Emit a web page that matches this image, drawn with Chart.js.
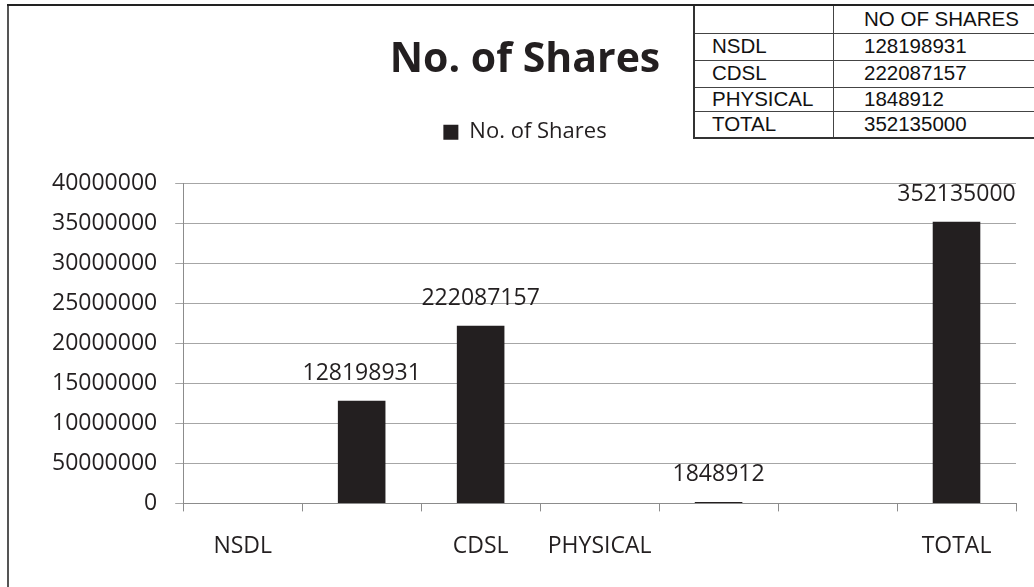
<!DOCTYPE html>
<html>
<head>
<meta charset="utf-8">
<script src="https://cdn.jsdelivr.net/npm/chart.js@4.4.1/dist/chart.umd.min.js"></script>
<style>
  body { margin: 0; background: #fff; }
  #wrap { position: absolute; left: 0; top: 0; width: 1034px; height: 587px; }
  #frameLeft { position: absolute; left: 7px; top: 4px; width: 2px; height: 583px; background: #555; }
  #frameTop { position: absolute; left: 7px; top: 4px; width: 688px; height: 2px; background: #222; }
  #shareTable {
    position: absolute; left: 693px; top: 4px; width: 345px;
    border-collapse: collapse; background: #fff;
    font-family: "Liberation Sans", Arial, sans-serif; font-size: 20.5px; color: #111;
    border-top: 2px solid #222; border-left: 2px solid #333; border-bottom: 2px solid #333;
  }
  #shareTable td { padding: 0; line-height: 1; border-top: 1px solid #444; white-space: nowrap; }
  #shareTable td.name { width: 121px; padding-left: 17px; border-right: 1px solid #444; }
  #shareTable td.val { padding-left: 30px; }
</style>
</head>
<body>
<div id="wrap"><canvas id="barChart"></canvas></div>
<div id="frameLeft"></div>
<div id="frameTop"></div>
<table id="shareTable"></table>
<script>
// chart data (values as shown in the picture)
var categories = ["NSDL", "", "CDSL", "PHYSICAL", "", "", "TOTAL"];
var shares = [null, 128198931, 222087157, null, 1848912, null, 352135000];
var yTickLabels = ["0", "50000000", "10000000", "15000000", "20000000", "25000000", "30000000", "35000000", "40000000"];

// table in the top right corner
var tableHeader = ["", "NO OF SHARES"];
var tableNames = ["NSDL", "CDSL", "PHYSICAL", "TOTAL"];
var tableValues = ["128198931", "222087157", "1848912", "352135000"];
var rowHeights = [28, 27, 27, 24, 27];

var table = document.getElementById("shareTable");
var rows = [tableHeader];
for (var i = 0; i < tableNames.length; i++) {
    rows.push([tableNames[i], tableValues[i]]);
}
rows.forEach(function (r, i) {
    var tr = document.createElement("tr");
    tr.style.height = rowHeights[i] + "px";
    var a = document.createElement("td");
    a.className = "name";
    a.textContent = r[0];
    var b = document.createElement("td");
    b.className = "val";
    b.textContent = r[1];
    tr.appendChild(a);
    tr.appendChild(b);
    table.appendChild(tr);
});

Chart.defaults.font.family = "'Open Sans', sans-serif";
Chart.defaults.color = "#231f20";

var valueLabels = {
    id: "valueLabels",
    afterDatasetsDraw: function (chart) {
        var ctx = chart.ctx;
        var meta = chart.getDatasetMeta(0);
        ctx.save();
        ctx.font = "23px 'Open Sans'";
        ctx.fillStyle = "#231f20";
        ctx.textAlign = "center";
        ctx.textBaseline = "middle";
        meta.data.forEach(function (bar, i) {
            if (shares[i] == null) return;
            ctx.fillText(String(shares[i]), bar.x, bar.y - 27);
        });
        ctx.restore();
    }
};

var barData = {
    labels: categories,
    datasets: [{
        label: "No. of Shares",
        backgroundColor: "#231f20",
        borderWidth: 0,
        data: shares,
        categoryPercentage: 1,
        barPercentage: 0.4
    }]
};

var barOptions = {
    responsive: true,
    maintainAspectRatio: false,
    animation: false,
    layout: { padding: { left: 34, right: 18, top: 0, bottom: 6 } },
    plugins: {
        title: {
            display: true,
            text: "No. of Shares",
            font: { size: 41, weight: "bold" },
            padding: { top: 36, bottom: 26 }
        },
        legend: {
            display: true,
            position: "top",
            labels: { boxWidth: 15, boxHeight: 15, font: { size: 22 }, padding: 10 }
        },
        subtitle: {
            display: true,
            text: "",
            weight: 500,
            font: { size: 1 },
            padding: { top: 0, bottom: 29 }
        },
        tooltip: { enabled: false }
    },
    scales: {
        x: {
            grid: { drawOnChartArea: false, color: "#8c8c8c", tickLength: 8 },
            border: { color: "#8c8c8c" },
            ticks: { font: { size: 23 }, padding: 21, autoSkip: false, maxRotation: 0 }
        },
        y: {
            min: 0,
            max: 400000000,
            grid: { color: "#a6a6a6", tickLength: 8 },
            border: { color: "#8c8c8c" },
            ticks: {
                stepSize: 50000000,
                font: { size: 23 },
                padding: 18,
                callback: function (value, index) { return yTickLabels[index]; }
            }
        }
    }
};

var ctx = document.getElementById("barChart").getContext("2d");
new Chart(ctx, { type: "bar", data: barData, options: barOptions, plugins: [valueLabels] });
</script>
</body>
</html>
